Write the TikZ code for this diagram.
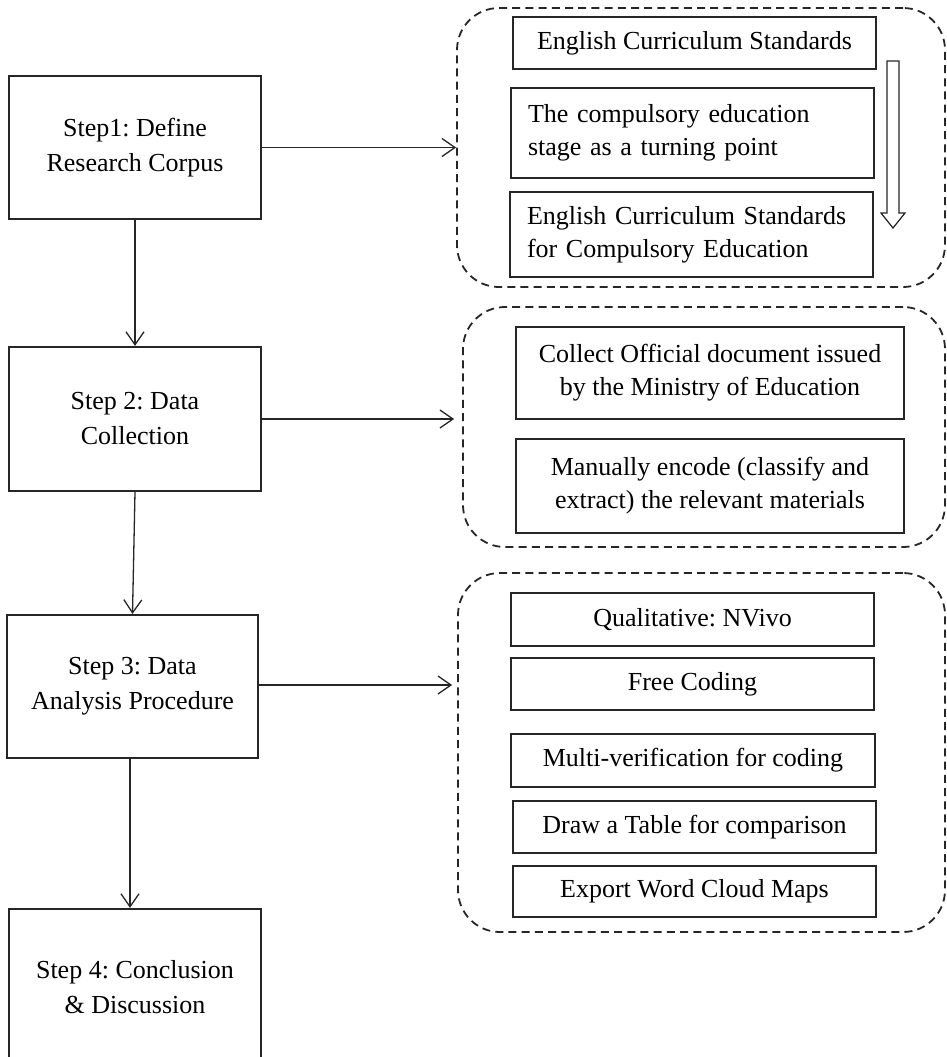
\documentclass[tikz,border=0pt]{standalone}
\usepackage{fontspec}
\setmainfont{Liberation Serif}
\usetikzlibrary{arrows.meta,calc}
\frenchspacing

\tikzset{
  stepbox/.style={draw=black!85, line width=1.1pt, align=center, inner sep=0pt,
    minimum width=126pt, font=\fontsize{13}{17.5}\selectfont},
  itembox/.style={draw=black!85, line width=1.1pt, align=center, inner sep=0pt,
    font=\fontsize{13}{16.5}\selectfont},
  leftbox/.style={itembox, align=left, inner xsep=8.5pt, text width=164.5pt},
  group/.style={draw=black!85, line width=0.9pt, dash pattern=on 4pt off 2.6pt,
    rounded corners=21pt, inner sep=0pt},
  flow/.style={draw=black!85, line width=0.65pt, -{Straight Barb[length=6.5pt,width=9pt]}},
  hollow/.style={draw=black!85, line width=0.6pt, fill=white}
}

\begin{document}
\begin{tikzpicture}[x=0.5pt,y=-0.5pt]
\useasboundingbox (0,0) rectangle (947,1057);
\clip (0,0) rectangle (947,1057);

% main steps
\node[stepbox, minimum height=71.5pt] (S1) at (135,147.5) {Step1: Define\\Research Corpus};
\node[stepbox, minimum height=72pt]   (S2) at (135,419)   {Step 2: Data\\Collection};
\node[stepbox, minimum height=71.5pt, minimum width=125.5pt] (S3) at (132.5,686.5) {Step 3: Data\\Analysis Procedure};
\node[stepbox, minimum height=78pt]   (S4) at (135,987)   {Step 4: Conclusion\\\& Discussion};

% dashed groups
\node[group, minimum width=244pt, minimum height=139.5pt] (G1) at (701,147.5) {};
\node[group, minimum width=241pt, minimum height=120pt]   (G2) at (704,427)   {};
\node[group, minimum width=243.5pt, minimum height=179.5pt] (G3) at (701.5,752.5) {};

% group 1: corpus
\node[itembox, minimum width=181.5pt, minimum height=26pt] (A) at (694.5,43) {English Curriculum Standards};
\node[leftbox, minimum height=45pt] (B) at (692.5,133) {The compulsory education\\stage as a turning point};
\node[leftbox, minimum height=42.5pt] (C) at (691.5,234.5) {English Curriculum Standards\\for Compulsory Education};
\draw[hollow] (887,61) -- (899,61) -- (899,213) -- (905,213) -- (893,228)
  -- (881,213) -- (887,213) -- cycle;

% group 2: collection
\node[itembox, minimum width=194pt, minimum height=46pt] (D) at (710,373) {Collect Official document issued\\by the Ministry of Education};
\node[itembox, minimum width=194pt, minimum height=47pt] (E) at (710,486) {Manually encode (classify and\\extract) the relevant materials};

% group 3: analysis
\node[itembox, minimum width=181.5pt, minimum height=26.5pt] (F) at (692.5,619.5) {Qualitative: NVivo};
\node[itembox, minimum width=181.5pt, minimum height=26pt]   (G) at (692.5,684)   {Free Coding};
\node[itembox, minimum width=182pt,   minimum height=26.5pt] (H) at (693,760.5)   {Multi-verification for coding};
\node[itembox, minimum width=181.5pt, minimum height=26pt]   (I) at (694.5,827)   {Draw a Table for comparison};
\node[itembox, minimum width=181.5pt, minimum height=25.5pt] (J) at (694.5,891.5) {Export Word Cloud Maps};

% connector end points
\coordinate (s3b) at ($(S3.south)+(-2.5,0)$);
\coordinate (s3e) at ($(S3.east)+(0,-1.5)$);

% connectors
\draw[flow] (S1.south) -- (S2.north);
\draw[flow] (S2.south) -- (S3.north);
\draw[flow] (s3b) -- (s3b |- S4.north);
\draw[flow] (S1.east) -- (S1.east -| G1.west);
\draw[flow, shorten >=4pt] (S2.east) -- (S2.east -| G2.west);
\draw[flow, shorten >=2.5pt] (s3e) -- (s3e -| G3.west);
\end{tikzpicture}
\end{document}
